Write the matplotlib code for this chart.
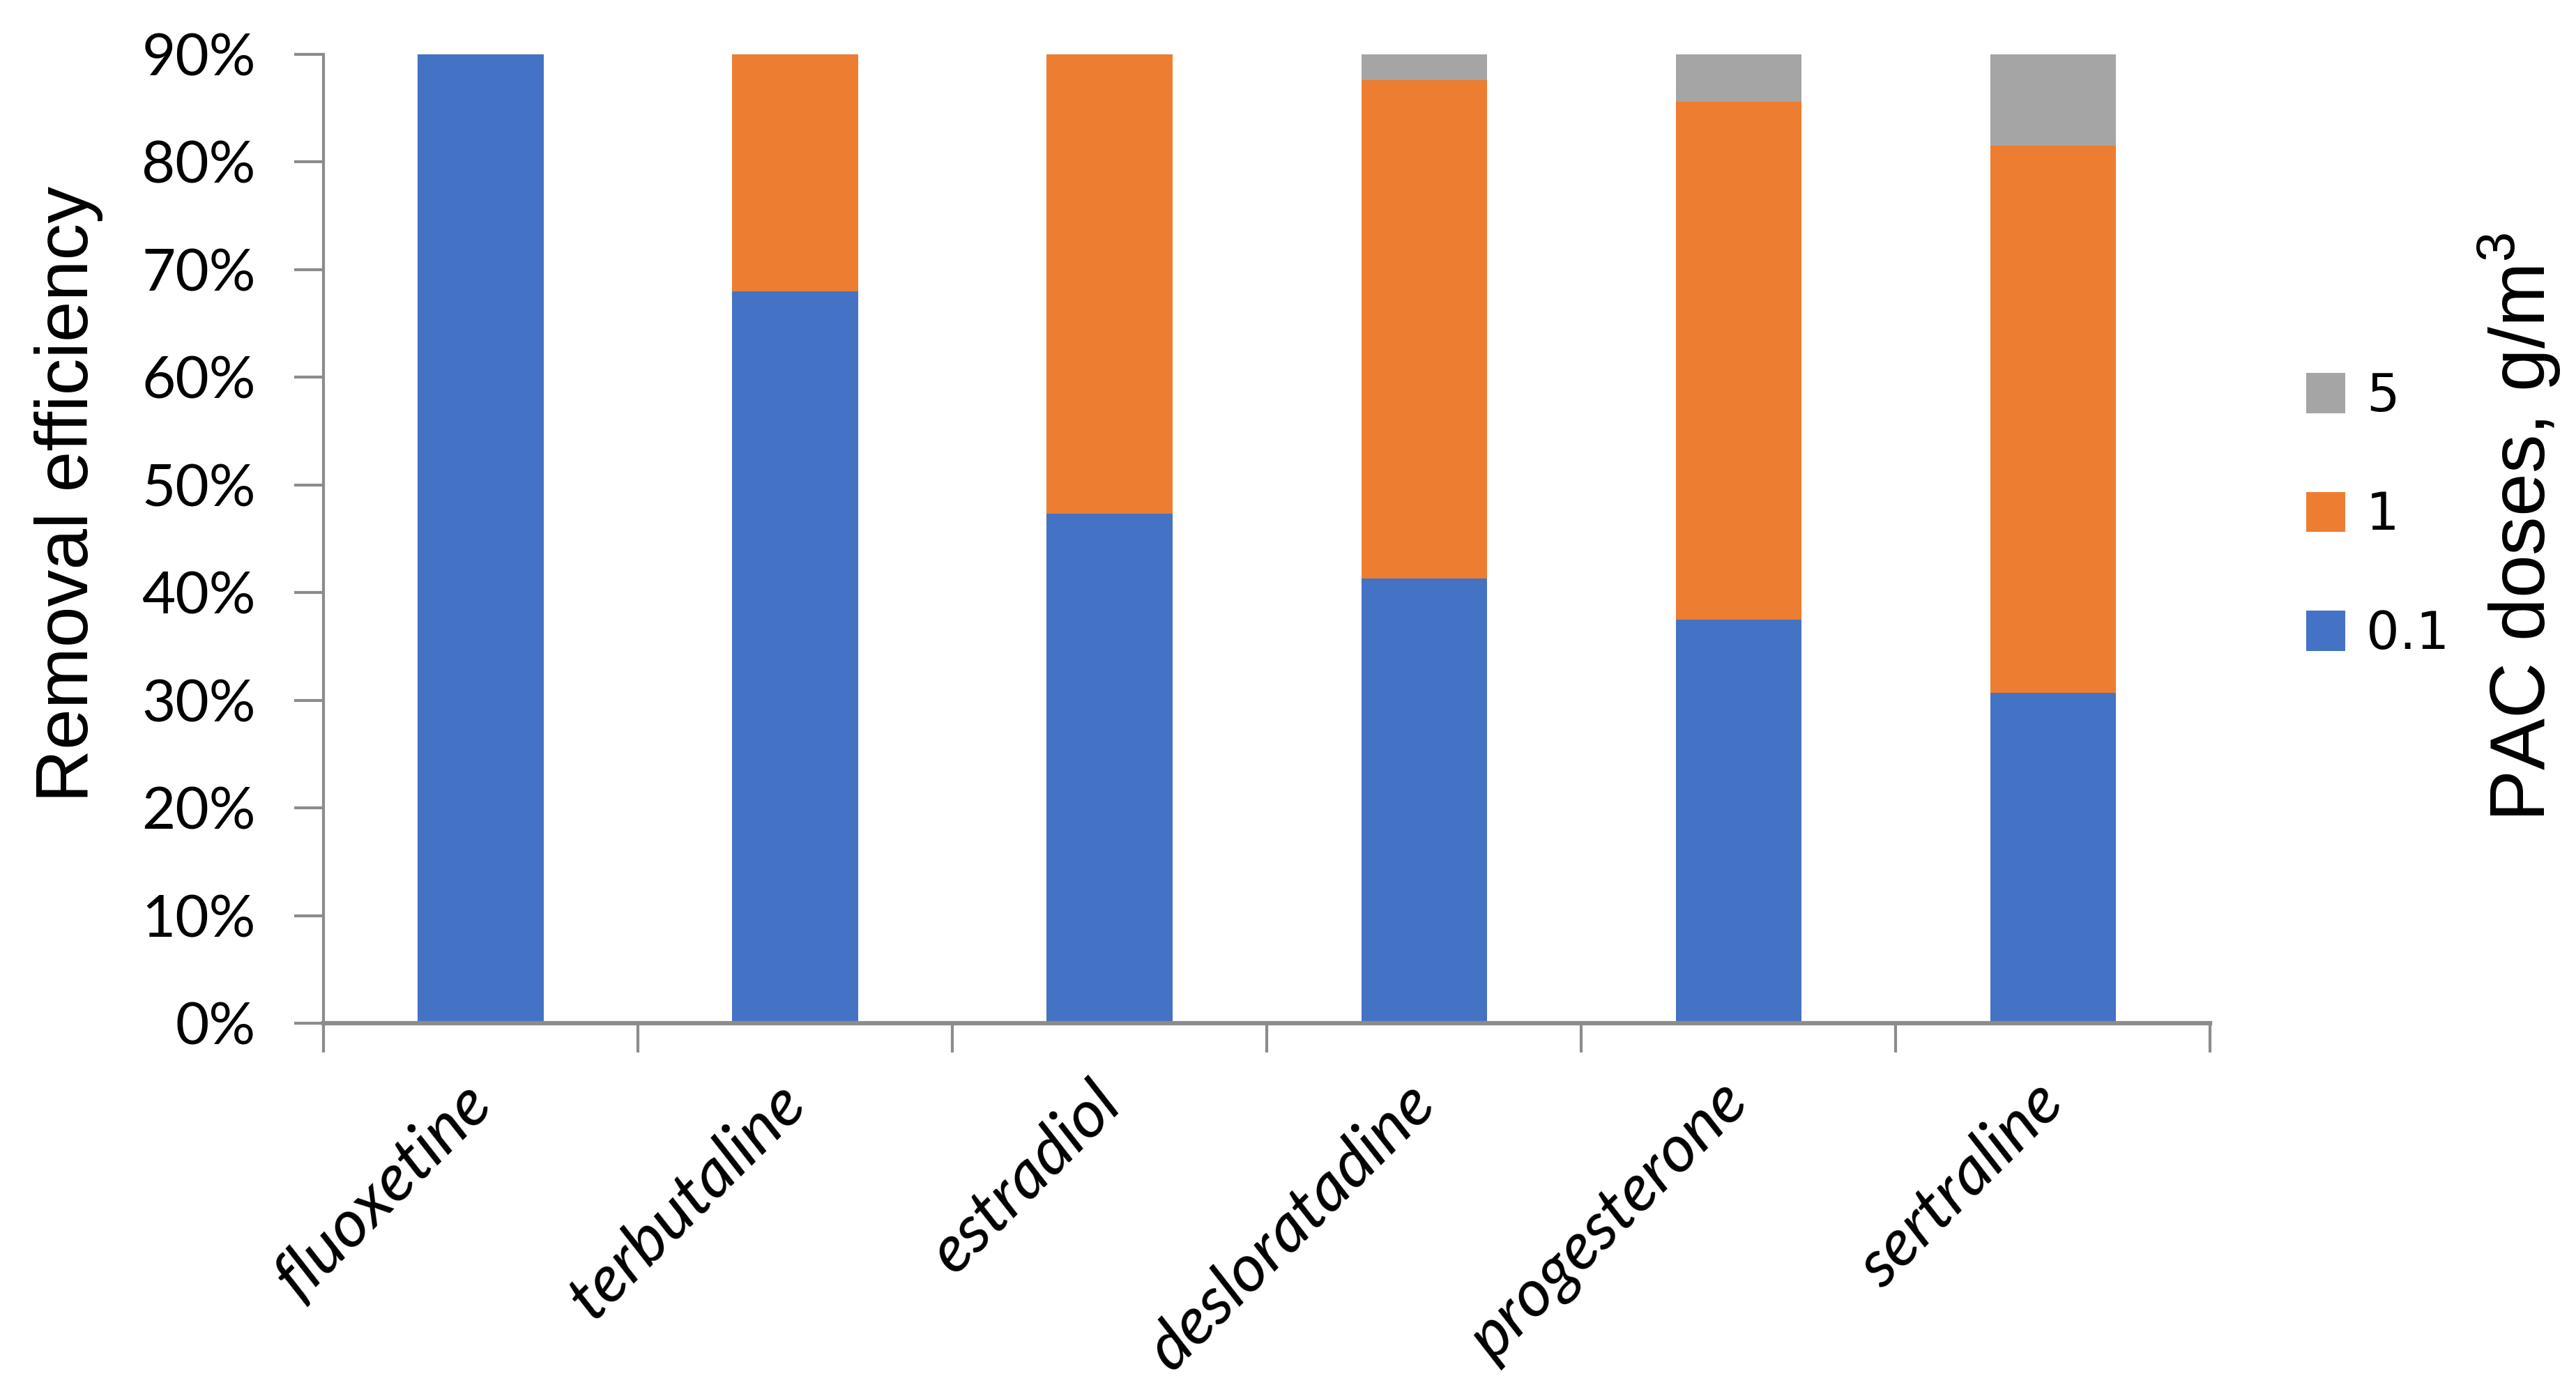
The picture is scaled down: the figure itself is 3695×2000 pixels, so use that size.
import numpy as np
import matplotlib.pyplot as plt

plt.rcParams['mathtext.fontset'] = 'custom'
plt.rcParams['mathtext.rm'] = 'Liberation Sans'

# values (percent)
compounds = ['fluoxetine', 'terbutaline', 'estradiol', 'desloratadine', 'progesterone', 'sertraline']
dose_labels = ['0.1', '1', '5']
dose_01 = [90.0, 68.0, 47.3, 41.3, 37.5, 30.7]
dose_1 = [0.0, 22.0, 42.7, 46.3, 48.1, 50.8]
dose_5 = [0.0, 0.0, 0.0, 2.4, 4.4, 8.5]
colors = ['#4472C4', '#ED7D31', '#A5A5A5']
yticks = [0, 10, 20, 30, 40, 50, 60, 70, 80, 90]

fig = plt.figure(figsize=(36.95, 20), dpi=100)
ax = fig.add_axes([0.1256, 0.266, 0.7324, 0.695])

x = np.arange(len(compounds))
bottom = np.zeros(len(compounds))
handles = []
for vals, lab, col in zip([dose_01, dose_1, dose_5], dose_labels, colors):
    b = ax.bar(x, vals, width=0.4, bottom=bottom, color=col, label=lab)
    handles.append(b)
    bottom += np.array(vals)

ax.set_xlim(-0.5, len(compounds) - 0.5)
ax.set_ylim(0, 90)
ax.set_yticks(yticks)
ax.set_yticklabels([f'{v}%' for v in yticks], fontsize=60, family='Lato')

ax.set_xticks(x)
ax.set_xticklabels(compounds, rotation=45, ha='right', va='center',
                   rotation_mode='anchor', fontsize=69, family='Lato', style='italic')
ax.set_xticks(np.arange(-0.5, len(compounds)), minor=True)
ax.tick_params(axis='x', which='major', length=0, pad=72)
ax.tick_params(axis='x', which='minor', length=30, width=3, color='#8c8c8c', direction='out')
ax.tick_params(axis='y', length=30, width=3, color='#8c8c8c', pad=40)

for s in ['top', 'right']:
    ax.spines[s].set_visible(False)
ax.spines['left'].set_color('#8c8c8c')
ax.spines['left'].set_linewidth(3)
ax.spines['bottom'].set_color('#8c8c8c')
ax.spines['bottom'].set_linewidth(4.5)

ax.set_ylabel('Removal efficiency', fontsize=76, family='Liberation Sans', labelpad=40, y=0.546)

fig.legend(handles[::-1], dose_labels[::-1], loc='center left', bbox_to_anchor=(0.877, 0.63),
           frameon=False, handlelength=0.75, handleheight=0.8,
           handletextpad=0.4, labelspacing=1.3, prop={'family': 'DejaVu Sans', 'size': 54})

fig.text(0.978, 0.622, 'PAC doses, g/m$^3$', rotation=90, ha='center', va='center',
         fontsize=80, family='Liberation Sans')

fig.savefig('out.png', dpi=100)
